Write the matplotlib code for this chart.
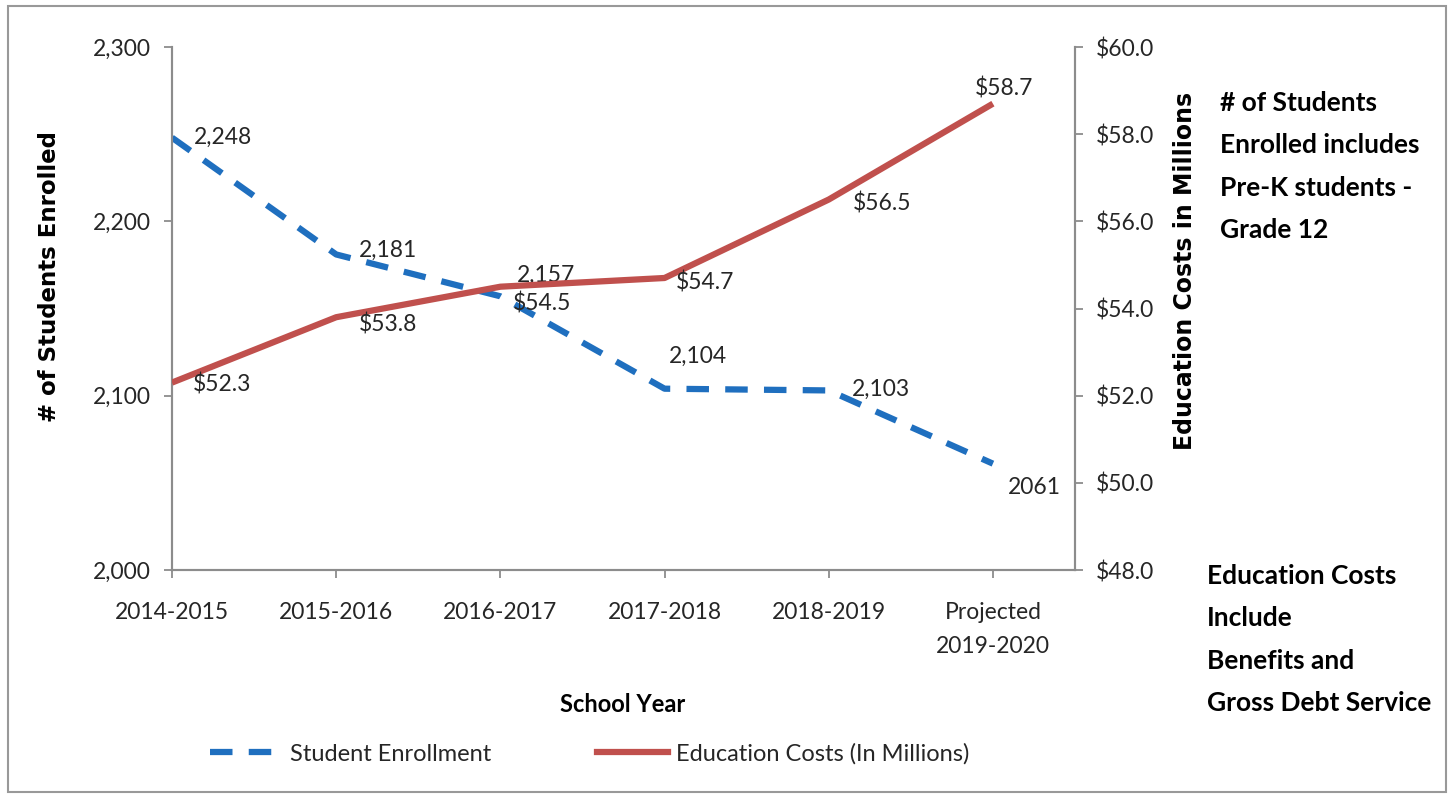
"""Student enrollment vs. education costs, dual-axis line chart."""

import matplotlib
matplotlib.use("Agg")
import matplotlib.pyplot as plt
from matplotlib.lines import Line2D
from matplotlib.patches import Rectangle
from matplotlib.ticker import FuncFormatter

# ---------------------------------------------------------------------------
# Data
# ---------------------------------------------------------------------------
school_years = ["2014-2015", "2015-2016", "2016-2017", "2017-2018", "2018-2019",
                "Projected\n2019-2020"]
enrollment = [2248, 2181, 2157, 2104, 2103, 2061]
enrollment_labels = ["2,248", "2,181", "2,157", "2,104", "2,103", "2061"]
costs = [52.3, 53.8, 54.5, 54.7, 56.5, 58.7]
cost_labels = ["$52.3", "$53.8", "$54.5", "$54.7", "$56.5", "$58.7"]

BLUE = "#1f6fbf"
RED = "#c0504d"
GRAY = "#8c8c8c"
TXT = "#262626"

plt.rcParams["font.family"] = ["Lato", "DejaVu Sans"]

W, H = 1454, 798
fig = plt.figure(figsize=(W / 100, H / 100), dpi=100)

# chart-area frame
fig.patches.append(Rectangle((8 / W, 1 - 792 / H), 1438 / W, 786 / H,
                             transform=fig.transFigure, fill=False,
                             edgecolor="#999999", linewidth=1.5))

ax = fig.add_axes([172 / W, 1 - 570 / H, 903 / W, 523 / H])
ax2 = ax.twinx()

x = list(range(len(school_years)))

ax.plot(x, enrollment, color=BLUE, linewidth=4.5, dashes=(3.6, 2.6),
        dash_capstyle="butt", zorder=3)
ax2.plot(x, costs, color=RED, linewidth=4.5, solid_capstyle="butt", zorder=3)

ax.set_xlim(0, 5.5)
ax.set_ylim(2000, 2300)
ax.set_yticks([2000, 2100, 2200, 2300])
ax.yaxis.set_major_formatter(FuncFormatter(lambda v, p: f"{int(v):,}"))
ax2.set_ylim(48, 60)
ax2.set_yticks([48, 50, 52, 54, 56, 58, 60])
ax2.yaxis.set_major_formatter(FuncFormatter(lambda v, p: f"${v:.1f}"))
ax.set_xticks(x)
ax.set_xticklabels(school_years)

for a in (ax, ax2):
    a.spines["top"].set_visible(False)
    for s in ("left", "right", "bottom"):
        a.spines[s].set_color(GRAY)
        a.spines[s].set_linewidth(1.5)
    a.tick_params(axis="both", direction="out", length=6, width=1.3,
                  color=GRAY, labelsize=16.5, labelcolor=TXT, pad=9)
ax.tick_params(axis="x", pad=17)
for lbl in ax.get_xticklabels():
    lbl.set_linespacing(1.75)
ax.patch.set_visible(False)

# data labels: (dx, dy) in points
enroll_offsets = [(16, 0), (16, 3), (12, 15), (3, 23), (17, 1), (11, -17)]
cost_offsets = [(15, -1.5), (16, -5), (9, -12), (8, -3), (17, -2.5), (-13, 11)]
for xi, v, lab, off in zip(x, enrollment, enrollment_labels, enroll_offsets):
    ax.annotate(lab, (xi, v), xytext=off, textcoords="offset points",
                ha="left", va="center", fontsize=16.5, color=TXT, zorder=5)
for xi, v, lab, off in zip(x, costs, cost_labels, cost_offsets):
    ax2.annotate(lab, (xi, v), xytext=off, textcoords="offset points",
                 ha="left", va="center", fontsize=16.5, color=TXT, zorder=5)

# axis titles
fig.text(50 / W, 1 - 277 / H, "# of Students Enrolled", rotation=90,
         ha="center", va="center", fontsize=16.5, fontweight="bold",
         family=["DejaVu Sans"], color="black")
fig.text(1185 / W, 1 - 271 / H, "Education Costs in Millions", rotation=90,
         ha="center", va="center", fontsize=17, fontweight="bold",
         family=["DejaVu Sans"], color="black")
fig.text(623 / W, 1 - 705 / H, "School Year", ha="center", va="center",
         fontsize=17, fontweight="bold", color="black")

# side notes
fig.text(1220 / W, 1 - 91 / H,
         "# of Students\nEnrolled includes\nPre-K students -\nGrade 12",
         ha="left", va="top", fontsize=19, fontweight="bold",
         linespacing=1.92, color="black")
fig.text(1207 / W, 1 - 564 / H,
         "Education Costs\nInclude\nBenefits and\nGross Debt Service",
         ha="left", va="top", fontsize=19, fontweight="bold",
         linespacing=1.92, color="black")

# legend
handles = [
    Line2D([], [], color=BLUE, linewidth=4.5, dashes=(3.6, 2.6)),
    Line2D([], [], color=RED, linewidth=4.5),
]
fig.legend(handles, ["Student Enrollment", "Education Costs (In Millions)"],
           loc="center", bbox_to_anchor=(590 / W, 1 - 754 / H), ncol=2,
           frameon=False, fontsize=17, handlelength=3.0, columnspacing=4.5,
           handletextpad=0.35, labelcolor=TXT)

fig.savefig("out.png", dpi=100)
